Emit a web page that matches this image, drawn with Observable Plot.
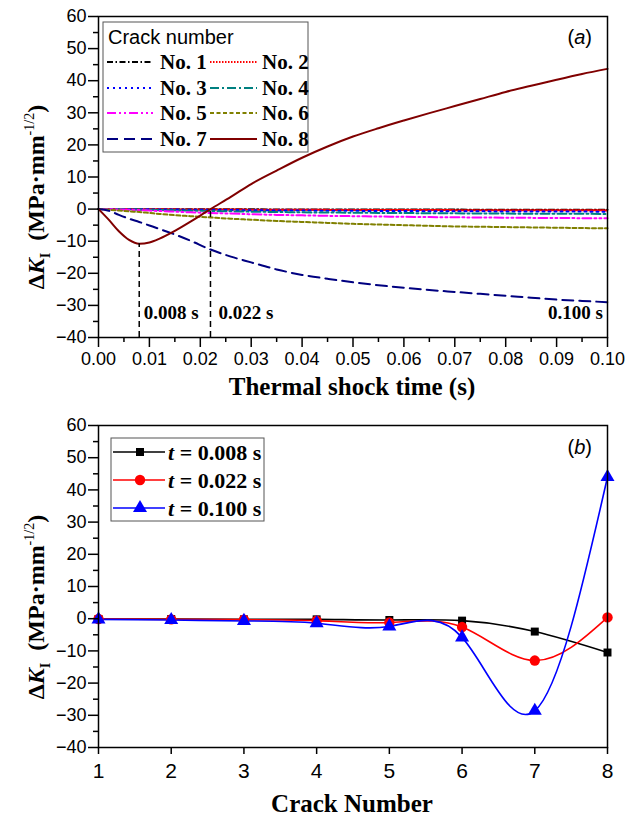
<!DOCTYPE html>
<html><head><meta charset="utf-8">
<script src="https://cdn.jsdelivr.net/npm/d3@7"></script>
<script src="https://cdn.jsdelivr.net/npm/@observablehq/plot@0.6"></script>
<style>
body{margin:0;background:#fff;}
#a svg,#b svg{display:block;}
</style>
</head><body>
<div id="a"></div><div id="b"></div>
<script>
// ---------- Panel (a) data ----------
const times = [0, 0.002, 0.004, 0.006, 0.008, 0.010, 0.012, 0.015, 0.018, 0.022, 0.026, 0.030, 0.035, 0.040, 0.045, 0.050, 0.055, 0.060, 0.065, 0.070, 0.075, 0.080, 0.085, 0.090, 0.095, 0.100];
const crack1 = [0, 0, 0, 0, -0.01, -0.02, -0.03, -0.04, -0.05, -0.06, -0.07, -0.08, -0.09, -0.1, -0.11, -0.12, -0.13, -0.14, -0.15, -0.16, -0.17, -0.18, -0.19, -0.2, -0.2, -0.2];
const crack2 = [0, 0, 0, -0.01, -0.02, -0.04, -0.06, -0.08, -0.1, -0.12, -0.14, -0.17, -0.2, -0.22, -0.24, -0.26, -0.28, -0.3, -0.31, -0.32, -0.34, -0.35, -0.36, -0.37, -0.38, -0.4];
const crack3 = [0, 0, -0.01, -0.03, -0.05, -0.08, -0.11, -0.15, -0.19, -0.25, -0.3, -0.35, -0.41, -0.46, -0.5, -0.54, -0.58, -0.61, -0.64, -0.67, -0.7, -0.72, -0.74, -0.76, -0.78, -0.8];
const crack4 = [0, 0, -0.05, -0.1, -0.15, -0.2, -0.28, -0.38, -0.48, -0.6, -0.7, -0.8, -0.9, -1.0, -1.06, -1.12, -1.18, -1.23, -1.28, -1.32, -1.36, -1.4, -1.43, -1.46, -1.48, -1.5];
const crack5 = [0, -0.05, -0.12, -0.2, -0.3, -0.45, -0.6, -0.8, -1.0, -1.2, -1.4, -1.6, -1.8, -1.95, -2.1, -2.2, -2.3, -2.4, -2.48, -2.55, -2.62, -2.68, -2.73, -2.78, -2.82, -2.85];
const crack6 = [0, -0.2, -0.45, -0.7, -0.9, -1.2, -1.5, -1.9, -2.2, -2.6, -3.0, -3.3, -3.7, -4.0, -4.3, -4.6, -4.8, -5.0, -5.2, -5.4, -5.5, -5.6, -5.7, -5.8, -5.9, -6.0];
const crack7 = [0, -0.5, -1.8, -3.0, -4.0, -5.1, -6.2, -7.9, -9.8, -12.6, -14.8, -16.6, -18.8, -20.5, -21.7, -22.8, -23.7, -24.5, -25.2, -25.8, -26.4, -27.0, -27.6, -28.2, -28.6, -29.0];
const crack8 = [0, -3.3, -6.9, -9.6, -10.8, -10.4, -9.2, -6.8, -4.0, 0, 3.8, 7.8, 12.0, 16.0, 19.5, 22.6, 25.2, 27.6, 29.9, 32.1, 34.3, 36.5, 38.4, 40.3, 42.1, 43.7];
const crackNames = ["No. 1", "No. 2", "No. 3", "No. 4", "No. 5", "No. 6", "No. 7", "No. 8"];
const crackColors = ["#000000", "#ff0000", "#0000ff", "#008080", "#ff00ff", "#808000", "#000080", "#800000"];
const crackDashes = ["6,2.5,1.5,2.5", "1.5,1.5", "2,4", "9,3,2,3", "9,3,2,3,2,3", "4,2.5", "11,6", null];
const markTimes = [0.008, 0.022];
const markTops = [-10.8, 0];
const timeLabels = ["0.008 s", "0.022 s", "0.100 s"];
const timeLabelX = [0.0089, 0.0236, 0.0991];
const timeLabelY = [-32.3, -32.3, -32.3];
const xTicksA = [0, 0.01, 0.02, 0.03, 0.04, 0.05, 0.06, 0.07, 0.08, 0.09, 0.10];
const xMinorA = [0.005, 0.015, 0.025, 0.035, 0.045, 0.055, 0.065, 0.075, 0.085, 0.095];
const yTicks = [-40, -30, -20, -10, 0, 10, 20, 30, 40, 50, 60];
const yMinor = [-35, -25, -15, -5, 5, 15, 25, 35, 45, 55];

// ---------- Panel (b) data ----------
const crackNumbers = [1, 2, 3, 4, 5, 6, 7, 8];
const dK_t008 = [-0.1, -0.1, -0.2, -0.2, -0.4, -0.6, -4.0, -10.5];
const dK_t022 = [-0.1, -0.2, -0.3, -0.6, -1.2, -2.6, -13.0, 0.4];
const dK_t100 = [-0.2, -0.4, -0.7, -1.4, -2.4, -5.8, -28.6, 44.0];
const seriesB = ["0.008", "0.022", "0.100"];
const colorsB = ["#000000", "#ff0000", "#0000ff"];
const symbolsB = ["square", "circle", "triangle"];

const SERIF = "'Liberation Serif','Times New Roman',serif";
const SANS = "'Liberation Sans',Arial,sans-serif";
const W = 633;

// ---------- Panel (a) ----------
const rowsA = [];
[crack1, crack2, crack3, crack4, crack5, crack6, crack7, crack8].forEach((vals, i) =>
  vals.forEach((v, j) => rowsA.push({t: times[j], k: v, name: crackNames[i]})));
const marksRows = markTimes.map((t, i) => ({t, top: markTops[i]}));
const labelRows = timeLabels.map((s, i) => ({s, x: timeLabelX[i], y: timeLabelY[i], anchor: i === 2 ? "end" : "start"}));

const plotA = Plot.plot({
  width: W, height: 410,
  marginLeft: 98, marginRight: 26, marginTop: 16, marginBottom: 73,
  style: {fontFamily: SANS, fontSize: "18px", color: "#000", background: "#fff"},
  x: {domain: [0, 0.1], label: null},
  y: {domain: [-40, 60], label: null},
  marks: [
    ...crackNames.map((n, i) => Plot.line(rowsA.filter(d => d.name === n), {
      x: "t", y: "k", stroke: crackColors[i], strokeWidth: 2,
      strokeDasharray: crackDashes[i] || undefined, curve: "monotone-x"
    })),
    Plot.ruleX(marksRows, {x: "t", y1: -40, y2: "top", stroke: "#000", strokeWidth: 1.5, strokeDasharray: "6,4"}),
    Plot.text(labelRows.filter(d => d.anchor === "start"), {x: "x", y: "y", text: "s", textAnchor: "start", fontFamily: SERIF, fontWeight: "bold", fontSize: 19, fill: "#000"}),
    Plot.text(labelRows.filter(d => d.anchor === "end"), {x: "x", y: "y", text: "s", textAnchor: "end", fontFamily: SERIF, fontWeight: "bold", fontSize: 19, fill: "#000"}),
    Plot.axisX(xTicksA, {tickSize: 10, tickPadding: 5, fontSize: 18, tickFormat: d3.format(".2f"), label: null, strokeWidth: 1.5}),
    Plot.axisX(xMinorA, {tickSize: 5, tickFormat: () => "", label: null, strokeWidth: 1.5}),
    Plot.axisY(yTicks, {tickSize: 10, tickPadding: 2, fontSize: 18, label: null, strokeWidth: 1.5}),
    Plot.axisY(yMinor, {tickSize: 5, tickFormat: () => "", label: null, strokeWidth: 1.5}),
    Plot.frame({stroke: "#000", strokeWidth: 1.5})
  ]
});
document.getElementById("a").appendChild(plotA);

// ---------- Panel (b) ----------
const rowsB = [];
[dK_t008, dK_t022, dK_t100].forEach((vals, i) =>
  vals.forEach((v, j) => rowsB.push({c: crackNumbers[j], k: v, s: seriesB[i]})));

const plotB = Plot.plot({
  width: W, height: 411,
  marginLeft: 98, marginRight: 26, marginTop: 15, marginBottom: 74,
  style: {fontFamily: SANS, fontSize: "18px", color: "#000", background: "#fff"},
  x: {domain: [1, 8], label: null},
  y: {domain: [-40, 60], label: null},
  marks: [
    ...seriesB.map((s, i) => Plot.line(rowsB.filter(d => d.s === s), {x: "c", y: "k", stroke: colorsB[i], strokeWidth: 1.6, curve: "natural"})),
    ...seriesB.map((s, i) => Plot.dot(rowsB.filter(d => d.s === s), {x: "c", y: "k", fill: colorsB[i], symbol: symbolsB[i], r: i === 0 ? 4.5 : 5.2, stroke: "none"})),
    Plot.axisX(crackNumbers, {tickSize: 7, tickPadding: 9, fontSize: 21, label: null, strokeWidth: 1.5}),
    Plot.axisY(yTicks, {tickSize: 10, tickPadding: 2, fontSize: 18, label: null, strokeWidth: 1.5}),
    Plot.axisY(yMinor, {tickSize: 5, tickFormat: () => "", label: null, strokeWidth: 1.5}),
    Plot.frame({stroke: "#000", strokeWidth: 1.5})
  ]
});
document.getElementById("b").appendChild(plotB);

// ---------- titles, legends, panel letters ----------
function yTitle(svg, cy) {
  const t = d3.select(svg).append("text")
    .attr("transform", `translate(44,${cy}) rotate(-90)`)
    .attr("text-anchor", "middle")
    .style("font-family", SERIF).style("font-weight", "bold").style("font-size", "24px").attr("fill", "#000");
  t.append("tspan").text("Δ");
  t.append("tspan").style("font-style", "italic").text("K");
  t.append("tspan").attr("dy", 6).style("font-size", "14px").text("I");
  t.append("tspan").attr("dy", -6).text("\u00a0\u00a0(MPa·mm");
  t.append("tspan").attr("dy", -10).style("font-size", "14px").style("font-weight", "normal").text("-1/2");
  t.append("tspan").attr("dy", 10).text(")");
}
function xTitle(svg, text, baseline) {
  d3.select(svg).append("text").attr("x", 352).attr("y", baseline).attr("text-anchor", "middle")
    .style("font-family", SERIF).style("font-weight", "bold").style("font-size", "25px").attr("fill", "#000").text(text);
}
function panelLetter(svg, letter, baseline) {
  const t = d3.select(svg).append("text").attr("x", 592).attr("y", baseline).attr("text-anchor", "end")
    .style("font-family", SANS).style("font-size", "20px").attr("fill", "#000");
  t.append("tspan").text("(");
  t.append("tspan").style("font-style", "italic").text(letter);
  t.append("tspan").text(")");
}

yTitle(plotA, 197);
xTitle(plotA, "Thermal shock time (s)", 395);
panelLetter(plotA, "a", 44);

yTitle(plotB, 197);
xTitle(plotB, "Crack Number", 402);
panelLetter(plotB, "b", 44);

// legend (a)
{
  const g = d3.select(plotA).append("g").attr("text-anchor", "start");
  g.append("rect").attr("x", 103).attr("y", 22).attr("width", 205).attr("height", 130)
    .attr("fill", "#fff").attr("stroke", "#555").attr("stroke-width", 1);
  g.append("text").attr("x", 108).attr("y", 44).attr("text-anchor", "start").style("font-family", SANS).style("font-size", "20px").attr("fill", "#000").text("Crack number");
  const rowY = [62, 88, 113, 139];
  crackNames.forEach((n, i) => {
    const col = i % 2, row = Math.floor(i / 2);
    const x1 = col ? 210 : 107, x2 = col ? 257 : 153, lx = col ? 262 : 160;
    const y = rowY[row];
    const l = g.append("line").attr("x1", x1).attr("x2", x2).attr("y1", y).attr("y2", y)
      .attr("stroke", crackColors[i]).attr("stroke-width", 2);
    if (crackDashes[i]) l.attr("stroke-dasharray", crackDashes[i]);
    g.append("text").attr("x", lx).attr("y", y + 7).attr("text-anchor", "start").style("font-family", SERIF).style("font-weight", "bold")
      .style("font-size", "21px").attr("fill", "#000").text(n);
  });
}
// legend (b)
{
  const g = d3.select(plotB).append("g").attr("text-anchor", "start");
  g.append("rect").attr("x", 111).attr("y", 28).attr("width", 153).attr("height", 83)
    .attr("fill", "#fff").attr("stroke", "#555").attr("stroke-width", 1);
  const rowY = [42, 70, 98];
  const syms = [d3.symbolSquare, d3.symbolCircle, d3.symbolTriangle];
  seriesB.forEach((s, i) => {
    const y = rowY[i];
    g.append("line").attr("x1", 113).attr("x2", 165).attr("y1", y).attr("y2", y).attr("stroke", colorsB[i]).attr("stroke-width", 1.6);
    const r = i === 0 ? 4.5 : 5.2;
    g.append("path").attr("d", d3.symbol(syms[i], Math.PI * r * r)()).attr("transform", `translate(140,${y})`).attr("fill", colorsB[i]);
    const t = g.append("text").attr("x", 168).attr("y", y + 8).attr("text-anchor", "start").style("font-family", SERIF).style("font-weight", "bold")
      .style("font-size", "22px").attr("fill", "#000");
    t.append("tspan").style("font-style", "italic").text("t");
    t.append("tspan").text(` = ${s} s`);
  });
}
</script>
</body></html>
